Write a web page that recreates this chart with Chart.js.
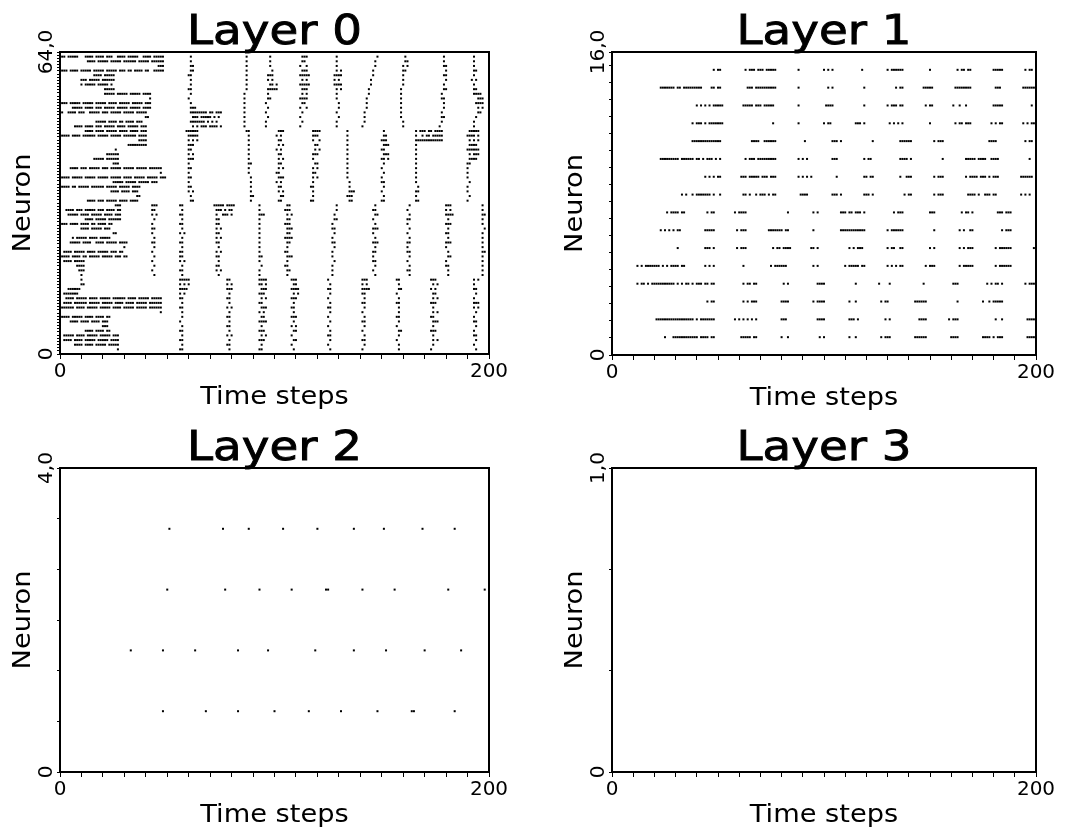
<!DOCTYPE html>
<html>
<head>
<meta charset="utf-8">
<title>Layer activity</title>
<script src="https://cdn.jsdelivr.net/npm/chart.js@4.4.1/dist/chart.umd.min.js"></script>
<style>
  html, body { margin: 0; padding: 0; background: #fff; }
  #wrap { position: relative; width: 1088px; height: 836px; }
  canvas { position: absolute; }
</style>
</head>
<body>
<div id="wrap">
  <canvas id="layer0" width="544" height="418" style="left:0;top:0"></canvas>
  <canvas id="layer1" width="544" height="418" style="left:544px;top:0"></canvas>
  <canvas id="layer2" width="544" height="418" style="left:0;top:418px"></canvas>
  <canvas id="layer3" width="544" height="418" style="left:544px;top:418px"></canvas>
</div>
<script>
const layerTitles = ['Layer 0', 'Layer 1', 'Layer 2', 'Layer 3'];
const yEndLabels = ['64,0', '16,0', '4,0', '1,0'];
const yTickSteps = [64 / 96, 0.9, 4 / 6, 1 / 3];
const xTickLabels = [0, 200];
const xLabel = 'Time steps';
const yLabel = 'Neuron';

// spike trains, top neuron first; "a-b" = fired on every step from a to b
const layer0Spikes = [
  '1,2 4-8 12-15 17-20 22-24 27-30 32-36 39-42 44-48 61 87 98 113-115 129 148 161 179 193',
  '13-16 18-22 24-28 30-35 37-41 43-48 61 87 98 113 114 129 147 161,162 179 193',
  '46-48 61,62 87 98 112 115 129 147 160 162 179,180 193',
  '1-3 5-8 10-14 16-20 22-26 28-30 32,33 35-38 40,41 44-48 61,62 87 99 113-115 129 131 146 160,161 180 193,194',
  '16-19 21-25 60,61 87 97-99 112-116 128-131 146 160 179,180 193',
  '10-12 14-18 20-25 61 87 97 99 113 115 128 130 145 160 180 192 194',
  '10 12-16 18-22 24 61 87 98,99 101 112-116 128-131 145 160 179 193',
  '21-25 60,61 87 97-101 113-115 129 131 144 159 179,180 193,194',
  '21-25 27-31 33-37 39-42 61 86 97 113 115 129 144 159 178 193-196',
  '42 60 86 97,98 112-115 129 143 159 178,179 195-197',
  '1-3 5-9 11-15 17-21 23-26 28-32 34-38 40-42 61 86 96 113 114 130 143 159 179 194-197',
  '6-10 12-15 17-19 21-25 27-31 33-37 39-42 61-63 86 97 112 115 130 143 159 179 195 197',
  '1 4-7 9-11 14-18 20-22 24-28 30-34 36-40 61-68 70,71 73-75 86 96 113 129 142 159 178 195,196',
  '40,41 62-64 66-70 72 74 86 97 112 130 142 159 178,179 194',
  '17-21 23-26 28,29 31-34 36-38 61-67 69 71 73 86 96 113 129 142 160 178 193',
  '7-10 12-15 17-19 21-25 27-30 32-36 38-40 62 64 66-68 70-73 75 86 96 112 129 141 160 177 193',
  '12-15 17-20 22-26 28-31 33-36 38-40 59-64 87,88 102-104 118-121 134 151 166 168-170 172,173 175-178 191-195',
  '1-4 6-9 11-16 18-22 24-28 30-35 37-40 60-64 88 101 103 118-120 134 151,152 166 169 171,172 174-178 190-193 195',
  '37-40 60 62 64 88 102,103 118 121 134 150-152 166-178 191 193 195',
  '32-40 60-62 88 102 104 119,120 134 151-153 166 191-194',
  '26 60,61 88 101 103 119 121 134 150,151 166 190-195',
  '22-27 60 62 88 102,103 118-120 134 151-153 166 191 193-195',
  '16-20 22-27 60-62 88 102 104 118 134 150,151 153 166 191-194',
  '25-27 60 88,89 102,103 119,120 134 151 166 190,191',
  '5-8 10-12 14-18 20-22 24-28 30-34 36-40 42-47 60,61 88 102 104 118 120 134 150 166 190',
  '47 60 88 101,102 118,119 134 151 166 190',
  '1-4 6-10 12-16 18-22 24-28 30-33 35-39 41-45 47-49 60,61 89 102-104 118 120 134 150 166 190',
  '25-29 31-35 37-41 43-45 60 89 101 103 118 135 150,151 166 191',
  '1-4 6,7 9-13 15-20 22-26 28-32 34-37 60,61 89 102,103 117,118 135 151 167 190',
  '24-27 29-32 34-36 60 62 89 102 104 118 135-137 150 166,167 190',
  '36,37 61 89,90 103,104 118 134-136 151 166 191',
  '13-16 18-20 22-26 28-31 33-36 61,62 89 102,103 117,118 135,136 150,151 166,167 190',
  '26-28 43-45 56,57 72-76 78-81 93 106,107 129 147 163 180-182 197',
  '3-6 8-10 12-16 18-20 22-25 27,28 43,44 57 73-75 77 79,80 93 105-107 129 146,147 162 180 182 197',
  '4-8 10-13 15-19 21-24 26-28 43 45 56,57 73 76-78 80 93-95 106 108 128 147,148 163 180-183 197,198',
  '12-15 17-21 23-28 44 57 73,74 93 106,107 128,129 146 162,163 181 197',
  '1-3 5-8 10-13 15,16 18-21 23,24 43 56,57 73,74 93 105-107 127 147 162 180-182 197',
  '10-13 15-19 21-23 43,44 57 73 75 93 106-108 127,128 146-148 163 181 198',
  '25,26 43 56 58 73,74 93 106,107 128 146 162 180,181 197',
  '6 8-12 14-17 19-23 44 57 73 75 93 105-108 127 147 163 181 197',
  '5-9 11-14 17-20 22-26 28-31 43,44 56,57 73,74 93 106,107 127,128 146-148 162,163 180-182 197',
  '30 44 57 74 93 106 128 147 162 180 197',
  '2-5 7-11 13-16 18-22 24-26 28,29 43 56,57 73 75 93 105,106 127 146,147 162,163 181 197,198',
  '1-4 6-9 11,12 14-18 20-24 26-28 30,31 44 56,57 73,74 93,94 106-108 127 146 163 181,182 197',
  '2-5 7-11 43 56 58 74 93 106 128 146,147 162 180 197',
  '8-11 44 57 73,74 94 105,106 127 147 163 180,181 197',
  '9-11 43 56,57 73 75 93 106,107 127 146 162,163 181 197',
  '10 44 57 74 93 106 127 147 163 181 197',
  '10 56-60 78,79 93-96 108-110 125 141-143 157,158 173-175 193 195',
  '10,11 56 58 60 78 80 93,94 96 109,110 126 141 143 158 174 176 193',
  '4-9 56-59 78-80 94-96 108-111 125,126 141-144 158,159 173 175 193,194',
  '2-8 56 58 79 93-95 109 111 126 141,142 157 174,175 194',
  '3-6 8-12 14-17 19-23 25-30 32-35 37-41 43-47 56,57 78,79 94 96 108-110 125 142 158 174 176 193',
  '2-5 7-12 14-18 20-24 26-29 31-34 36-40 42-47 57 79 93,94 109 126 141,142 157,158 173-175 193-195',
  '1-6 8-11 13-17 19-23 25-28 30-34 36-40 42-47 56,57 78 80 94-96 108,109 125,126 142 158 174 193 195',
  '47 57 79 93 95 109 126 141 158 174 176 194',
  '1-4 6-10 12-15 17-20 22,23 57 78,79 94,95 108-110 125 142 157,158 173,174 193',
  '5-8 10-13 15-18 20-22 56 79 93-96 109 126 141,142 158 174-176 193,194',
  '20-22 57 78,79 94 108 110 125 142 157 174 194',
  '12-15 17-20 22,23 56,57 79 93-95 109,110 126 141 158,159 173-175 193',
  '2-6 8-11 13-17 19-23 25-27 57 78 80 94 96 108 125,126 142 158 174 193,194',
  '2-5 7-10 12-16 18-22 24-27 56,57 79 93-95 109,110 126 141,142 157 174 176 194',
  '7-10 12-15 17-21 23-27 57 78,79 94 108 125 142 158 174 193',
  '27 56,57 79 93,94 109 126 141 158 173 194'
];

const layer1Spikes = [
  '48 50,51 63 65-67 69-71 73-77 88 100 102 104 118 130 132-137 150 163 165,166 168,169 180-184 195 197,198',
  '23-29 31,32 34-42 47,48 50,51 64-66 68-77 88 102 104 119 134 136,137 147-151 162-169 181-183 194-199',
  '40 42 44 46 48-52 62-66 68-70 72-76 88 101-104 119 130 132-134 136,137 148 150,151 161 164 167 180-184 198',
  '38 40-42 44 46-52 76 88 100 102,103 115-117 119 131 133 135 137 150 162 164,165 167-169 179 181 183,184 194 196 198,199',
  '38-51 66-69 72-77 91 104-106 108 123 136-141 152 154-156 178-181 195 197,198',
  '23-31 33-38 40,41 43 45-47 49 51 63 65-67 69-77 88 90 92 104-106 119 121,122 136-139 141 156 167-171 173-176 179-182 197',
  '44 46 48 50,51 61-63 65-69 71-73 75-77 88 90 92 94 106 119,120 122,123 136 139-141 152 154-156 167 169-172 174-176 178 180-182 193-198',
  '33 35 38 40-46 48 51 62,63 65 68 70-72 74 76,77 89-92 104-106 108 119-121 123 138 140,141 152 154-156 168-171 173 176-178 180,181 193 195 197',
  '26 28-31 33,34 45 47,48 58 60-63 83 95 97 108-110 112,113 115-117 119 133 135-137 150-152 165 167,168 170 182-184 186-188',
  '23 25 27 29 31,32 44-48 59 61-63 74-80 82,83 95 108-119 130 132-137 152 164 166 169,170 184 186-188',
  '31 44-46 48 59 61-63 76 78,79 81-84 94,95 97 112 114 116-118 130 132,133 136,137 150 152 164 166 168-170 181 183-188 199',
  '12 14 16-22 24 26 28-31 33,34 44 46 48 62 75 77-82 95 97 110 112-116 118,119 130 132 134 136,137 148 150-152 164 166-170 181 183-188',
  '12 14,15 17 19-29 31 33 35,36 38 40-42 44,45 47,48 62 64,65 67,68 81 83 97-100 115 126 131 147 161-163 177 179 181,182 184 195 197-199',
  '45 47,48 62 64 66-68 80-83 95 97-100 112 115 127 129,130 143-148 163 175 178 180-184',
  '21-38 40 42-48 58 60 62 64 66 68 80-82 97-100 112-114 116 129 131 145-148 159 161-163 181 184 196-199',
  '25 29-40 42-45 47,48 61-65 67,68 80 83 98 100 112 115 127 129-131 143-148 160-163 175-178 180 182-184 196-199'
];

const layer2Spikes = [
  '51 76 88 104 120 137 151 169 184',
  '50 77 93 108 124,125 141 156 181 198',
  '33 48 63 83 97 119 137 152 170 187',
  '48 68 83 100 116 131 148 164,165 184'
];

const layer3Spikes = [''];

const FONT = '"DejaVu Sans", "Liberation Sans", sans-serif';

function parseTrain(str) {
  const times = [];
  str.split(/[\s,]+/).filter(Boolean).forEach(tok => {
    const [a, b] = tok.split('-').map(Number);
    for (let t = a; t <= (b ?? a); t++) times.push(t);
  });
  return times;
}

function toPoints(trains) {
  const n = trains.length;
  const pts = [];
  trains.forEach((str, row) => {
    const neuron = n - 1 - row;
    const y = (neuron + 1) * n / (n + 1);
    parseTrain(str).forEach(t => pts.push({ x: t, y: y }));
  });
  return pts;
}

// frame, titles and rotated axis texts
const panelText = {
  id: 'panelText',
  afterDraw(chart, args, opts) {
    const { ctx, chartArea: a, scales } = chart;
    const cx = (a.left + a.right) / 2;
    const cy = (a.top + a.bottom) / 2;
    ctx.save();
    ctx.strokeStyle = '#000';
    ctx.lineWidth = 2;
    ctx.strokeRect(a.left, a.top, a.right - a.left, a.bottom - a.top);
    ctx.fillStyle = '#000';
    ctx.textAlign = 'center';
    ctx.textBaseline = 'alphabetic';

    ctx.save();
    ctx.font = '41px ' + FONT;
    ctx.translate(cx, a.top - 8.5);
    ctx.scale(1.14, 1);
    ctx.lineWidth = 0.9;
    ctx.fillText(opts.title, 0, 0);
    ctx.strokeText(opts.title, 0, 0);
    ctx.restore();

    ctx.save();
    ctx.font = '25px ' + FONT;
    ctx.translate(cx, a.bottom + 50);
    ctx.scale(1.09, 1);
    ctx.fillText(xLabel, 0, 0);
    ctx.restore();

    ctx.save();
    ctx.font = '25px ' + FONT;
    ctx.translate(a.left - 30, cy);
    ctx.rotate(-Math.PI / 2);
    ctx.scale(1.09, 1);
    ctx.fillText(yLabel, 0, 0);
    ctx.restore();

    const y = scales.y;
    ctx.font = '20px ' + FONT;
    [[y.max, opts.yTop], [y.min, '0']].forEach(([v, txt]) => {
      ctx.save();
      ctx.translate(a.left - 8.5, y.getPixelForValue(v));
      ctx.rotate(-Math.PI / 2);
      ctx.fillText(txt, 0, 0);
      ctx.restore();
    });
    ctx.restore();
  }
};

const panels = [
  { id: 'layer0', spikes: layer0Spikes, area: { left: 60, top: 52, right: 489, bottom: 354 } },
  { id: 'layer1', spikes: layer1Spikes, area: { left: 68, top: 52, right: 492, bottom: 355 } },
  { id: 'layer2', spikes: layer2Spikes, area: { left: 60, top: 50, right: 489, bottom: 354 } },
  { id: 'layer3', spikes: layer3Spikes, area: { left: 68, top: 50, right: 492, bottom: 354 } }
];

panels.forEach((p, i) => {
  const canvas = document.getElementById(p.id);
  const W = canvas.width, H = canvas.height;
  const yMax = p.spikes.length;
  const step = yTickSteps[i];

  new Chart(canvas, {
    type: 'scatter',
    data: {
      datasets: [{
        data: toPoints(p.spikes),
        pointStyle: 'rect',
        pointRadius: 1.42,
        pointBorderWidth: 0,
        backgroundColor: '#000',
        borderColor: '#000'
      }]
    },
    options: {
      responsive: false,
      animation: false,
      events: [],
      layout: { padding: { left: 0, top: p.area.top, right: W - p.area.right, bottom: 0 } },
      plugins: {
        legend: { display: false },
        tooltip: { enabled: false },
        panelText: { title: layerTitles[i], yTop: yEndLabels[i] }
      },
      scales: {
        x: {
          type: 'linear',
          min: 0,
          max: 200,
          afterBuildTicks: scale => {
            const ticks = [];
            for (let v = 0; v <= 200; v += 10) ticks.push({ value: v });
            scale.ticks = ticks;
          },
          afterFit: scale => { scale.height = H - p.area.bottom; },
          border: { display: false },
          grid: { drawOnChartArea: false, drawTicks: true, tickLength: 5, color: '#000', lineWidth: 1 },
          ticks: {
            autoSkip: false,
            maxRotation: 0,
            padding: 3,
            color: '#000',
            font: { family: FONT, size: 20, lineHeight: 1 },
            callback: v => xTickLabels.includes(v) ? String(v) : ''
          }
        },
        y: {
          type: 'linear',
          min: 0,
          max: yMax,
          afterBuildTicks: scale => {
            const ticks = [];
            for (let k = 0; k * step <= yMax + 1e-9; k++) ticks.push({ value: k * step });
            if (ticks[ticks.length - 1].value < yMax - 1e-6) ticks.push({ value: yMax });
            scale.ticks = ticks;
          },
          afterFit: scale => { scale.width = p.area.left; },
          border: { display: false },
          grid: { drawOnChartArea: false, drawTicks: true, tickLength: 3, color: '#000', lineWidth: 1 },
          ticks: { display: false }
        }
      }
    },
    plugins: [panelText]
  });
});
</script>
</body>
</html>
